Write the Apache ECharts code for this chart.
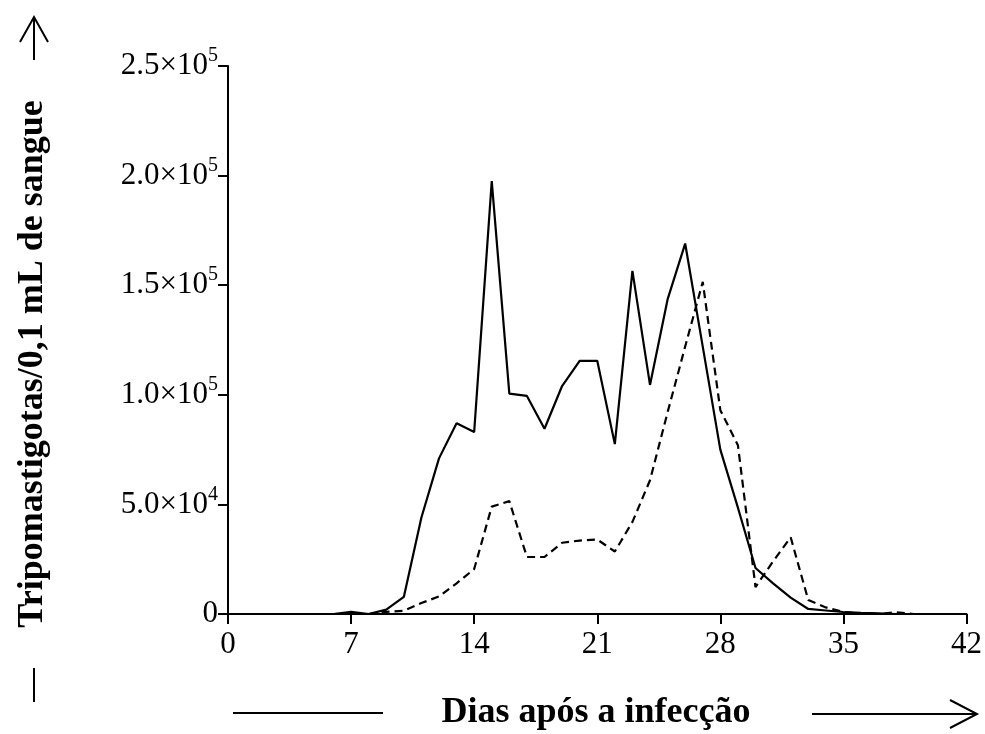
<!DOCTYPE html>
<html>
<head>
<meta charset="utf-8">
<script src="https://cdn.jsdelivr.net/npm/echarts@6/dist/echarts.min.js"></script>
<style>
  html, body { margin: 0; padding: 0; background: #fff; }
  #chart { width: 985px; height: 734px; }
</style>
</head>
<body>
<div id="chart"></div>
<script>
// days after infection
var days = [1, 2, 3, 4, 5, 6, 7, 8, 9, 10, 11, 12, 13, 14, 15, 16, 17, 18, 19, 20, 21,
            22, 23, 24, 25, 26, 27, 28, 29, 30, 31, 32, 33, 34, 35, 36, 37, 38, 39, 40, 41, 42];

// solid line
var solidValues = [0, 0, 0, 0, 0, 0, 1000, 0, 2000, 7800, 44000, 71000, 87000, 83000, 197500,
                   100500, 99500, 84500, 104000, 115500, 115500, 77500, 156500, 104500, 143500,
                   169000, 122000, 75000, 48500, 21000, 14000, 7500, 2300, 1600, 900, 500, 300,
                   0, 0, 0, 0, 0];

// dashed line (starts on day 8)
var dashedValues = [null, null, null, null, null, null, null, 0, 1000, 1500, 5000, 8000, 14000,
                    20500, 49000, 51500, 26000, 26000, 32500, 33500, 34000, 28500, 42000, 61000,
                    92000, 122000, 151500, 93000, 77000, 12300, 24000, 35000, 6400, 3000, 900,
                    300, 0, 800, 0, 0, 0, 0];

var xTicks = [0, 7, 14, 21, 28, 35, 42];
var yTicks = [0, 50000, 100000, 150000, 200000, 250000];
var yTickMantissa = ['0', '5.0', '1.0', '1.5', '2.0', '2.5'];
var yTickExponent = ['', '4', '5', '5', '5', '5'];

var xTitle = 'Dias após a infecção';
var yTitle = 'Tripomastigotas/0,1 mL de sangue';

function pairs(vals) {
  var out = [];
  for (var i = 0; i < days.length; i++) {
    out.push([days[i], vals[i]]);
  }
  return out;
}

var serif = '"Liberation Serif", "Times New Roman", serif';
var chart = echarts.init(document.getElementById('chart'));

chart.setOption({
  backgroundColor: '#fff',
  animation: false,
  grid: { left: 228, right: 18, top: 66, bottom: 120 },
  xAxis: {
    type: 'value',
    min: xTicks[0],
    max: xTicks[xTicks.length - 1],
    interval: 7,
    axisLine: { lineStyle: { color: '#000', width: 2 } },
    axisTick: { length: 10, lineStyle: { color: '#000', width: 2 } },
    splitLine: { show: false },
    axisLabel: {
      color: '#000',
      fontFamily: serif,
      fontSize: 31,
      margin: 15
    }
  },
  yAxis: {
    type: 'value',
    min: yTicks[0],
    max: yTicks[yTicks.length - 1],
    interval: 50000,
    axisLine: { show: true, lineStyle: { color: '#000', width: 2 } },
    axisTick: { show: true, length: 10, lineStyle: { color: '#000', width: 2 } },
    splitLine: { show: false },
    axisLabel: {
      color: '#000',
      fontFamily: serif,
      fontSize: 31,
      lineHeight: 40,
      margin: 10,
      formatter: function (v) {
        var i = yTicks.indexOf(v);
        if (i < 0) return '';
        if (!yTickExponent[i]) return yTickMantissa[i];
        return yTickMantissa[i] + '×10{sup|' + yTickExponent[i] + '}';
      },
      rich: {
        sup: {
          fontFamily: serif,
          fontSize: 20,
          lineHeight: 20,
          color: '#000',
          verticalAlign: 'top'
        }
      }
    }
  },
  series: [
    {
      type: 'line',
      data: pairs(solidValues),
      showSymbol: false,
      symbol: 'none',
      lineStyle: { color: '#000', width: 2.2 }
    },
    {
      type: 'line',
      data: pairs(dashedValues),
      showSymbol: false,
      symbol: 'none',
      connectNulls: false,
      lineStyle: { color: '#000', width: 2.2, type: [8, 5] }
    }
  ],
  graphic: [
    {
      type: 'text',
      x: 33,
      y: 364,
      rotation: Math.PI / 2,
      style: {
        text: yTitle,
        font: 'bold 36px ' + serif,
        fill: '#000',
        textAlign: 'center',
        textVerticalAlign: 'middle'
      }
    },
    {
      type: 'text',
      x: 596,
      y: 713,
      style: {
        text: xTitle,
        font: 'bold 36px ' + serif,
        fill: '#000',
        textAlign: 'center',
        textVerticalAlign: 'middle'
      }
    },
    // y-title decorations
    { type: 'line', shape: { x1: 34, y1: 17, x2: 34, y2: 60 }, style: { stroke: '#000', lineWidth: 2 } },
    { type: 'polyline', shape: { points: [[20, 42], [34, 17], [48, 42]] }, style: { stroke: '#000', lineWidth: 2, fill: null } },
    { type: 'line', shape: { x1: 34, y1: 668, x2: 34, y2: 702 }, style: { stroke: '#000', lineWidth: 2 } },
    // x-title decorations
    { type: 'line', shape: { x1: 233, y1: 713, x2: 383, y2: 713 }, style: { stroke: '#000', lineWidth: 2 } },
    { type: 'line', shape: { x1: 812, y1: 714, x2: 976, y2: 714 }, style: { stroke: '#000', lineWidth: 2 } },
    { type: 'polyline', shape: { points: [[950, 700], [977, 714], [950, 728]] }, style: { stroke: '#000', lineWidth: 2, fill: null } }
  ]
});
</script>
</body>
</html>
